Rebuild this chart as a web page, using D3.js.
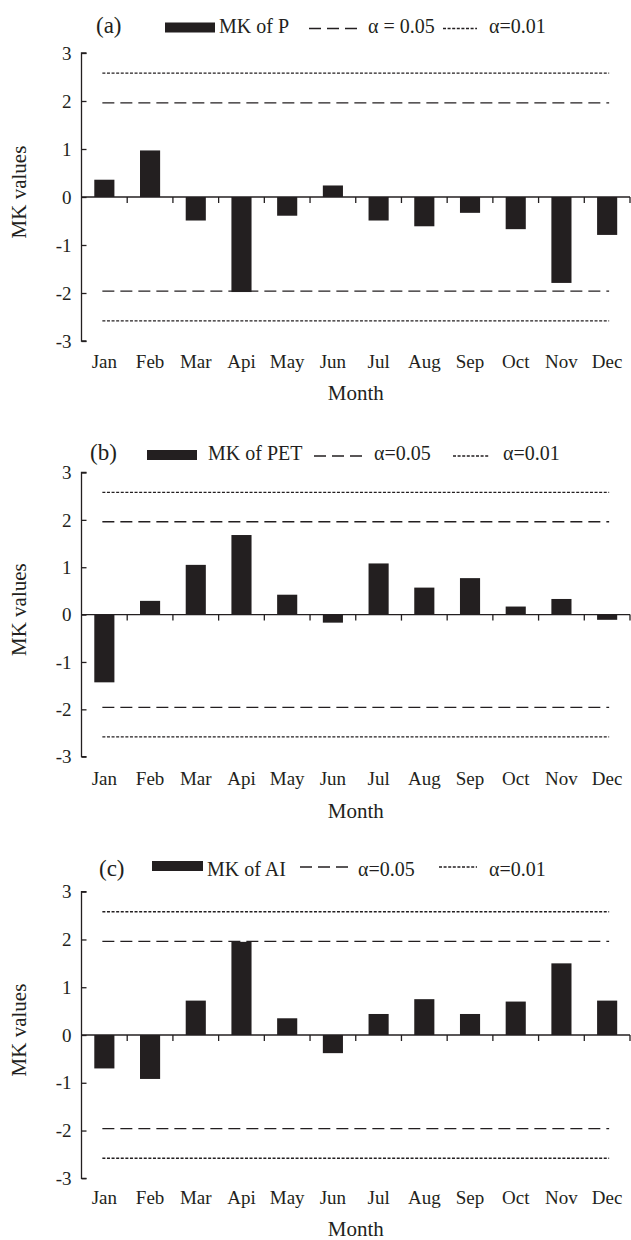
<!DOCTYPE html>
<html><head><meta charset="utf-8">
<script src="https://cdn.jsdelivr.net/npm/d3@7"></script>
<style>
html,body{margin:0;padding:0;background:#fff;}
svg{display:block;font-family:"Liberation Serif","Times New Roman",serif;}
</style></head>
<body>
<svg id="chart" width="631" height="1240"></svg>
<script>
// ---- data ----
const months = ["Jan","Feb","Mar","Api","May","Jun","Jul","Aug","Sep","Oct","Nov","Dec"];
const mkP   = [0.36, 0.97, -0.49, -1.98, -0.39, 0.24, -0.49, -0.61, -0.33, -0.67, -1.79, -0.79];
const mkPET = [-1.43, 0.29, 1.05, 1.68, 0.42, -0.17, 1.08, 0.57, 0.77, 0.17, 0.33, -0.11];
const mkAI  = [-0.70, -0.92, 0.72, 1.95, 0.35, -0.38, 0.44, 0.75, 0.44, 0.70, 1.50, 0.72];
const yTickValues = [-3, -2, -1, 0, 1, 2, 3];
const alpha05 = 1.96;
const alpha01 = 2.58;
const panelTags = ["(a)", "(b)", "(c)"];
const seriesNames = ["MK of P", "MK of PET", "MK of AI"];
const alpha05Labels = ["\u03b1 = 0.05", "\u03b1=0.05", "\u03b1=0.05"];
const alpha01Labels = ["\u03b1=0.01", "\u03b1=0.01", "\u03b1=0.01"];
const xTitle = "Month";
const yTitle = "MK values";

// ---- layout (positions only) ----
const layout = [
  {top:53, bottom:341, tickBase:368, titleBase:400, legBase:33, rectY:22.5, rectH:10,
   tag:96, rect:[165,215], name:219, dash:[309,362], a05:368, dot:[443,477], a01:489},
  {top:472.5, bottom:756.7, tickBase:785, titleBase:818, legBase:460, rectY:450, rectH:10,
   tag:90, rect:[147,197], name:208, dash:[314,364], a05:374, dot:[453,489], a01:503},
  {top:891.7, bottom:1178.3, tickBase:1204, titleBase:1236, legBase:876, rectY:861, rectH:10,
   tag:99, rect:[152,203], name:207, dash:[300,350], a05:358, dot:[439,477], a01:489}
];
const axisX = 81.5, axisEnd = 630;
const ink = "#231f20";

const svg = d3.select("#chart");
const x = d3.scaleBand().domain(months).range([axisX, axisEnd]).paddingInner(0.56).paddingOuter(0.28);
const band = d3.scaleBand().domain(months).range([axisX, axisEnd]).padding(0);
const allSeries = [mkP, mkPET, mkAI];

allSeries.forEach((vals, i) => {
  const L = layout[i];
  const y = d3.scaleLinear().domain([-3, 3]).range([L.bottom, L.top]);
  const g = svg.append("g");

  // reference lines
  const lx1 = band(months[0]) + band.bandwidth()/2 - 2;
  const lx2 = band(months[11]) + band.bandwidth()/2 + 2;
  [[alpha05, "12,6"], [-alpha05, "12,6"], [alpha01, "3,1.6"], [-alpha01, "3,1.6"]].forEach(([v, da]) => {
    g.append("line").attr("x1", lx1).attr("x2", lx2).attr("y1", y(v)).attr("y2", y(v))
      .attr("stroke", ink).attr("stroke-width", 1.3).attr("stroke-dasharray", da);
  });

  // bars
  g.selectAll("rect.bar").data(vals).join("rect").attr("class","bar")
    .attr("x", (d, j) => x(months[j]))
    .attr("width", x.bandwidth())
    .attr("y", d => y(Math.max(0, d)))
    .attr("height", d => Math.abs(y(d) - y(0)))
    .attr("fill", ink);

  // y axis
  const yAxis = d3.axisRight(y).tickValues(yTickValues).tickSize(5).tickFormat("");
  const ya = g.append("g").attr("transform", `translate(${axisX},0)`).call(yAxis);
  ya.select(".domain").attr("d", `M5,${L.top}H0V${L.bottom}H5`).attr("stroke", ink).attr("stroke-width", 1.3);
  ya.selectAll(".tick line").attr("stroke", ink).attr("stroke-width", 1.3);
  g.selectAll("text.ylab").data(yTickValues).join("text").attr("class","ylab")
    .attr("x", axisX - 10).attr("y", d => y(d)).attr("dy", "0.35em")
    .attr("text-anchor", "end").attr("font-size", 19).attr("fill", ink)
    .text(d => d);

  // x axis at zero with ticks at band boundaries
  g.append("line").attr("x1", axisX).attr("x2", axisEnd).attr("y1", y(0)).attr("y2", y(0))
    .attr("stroke", ink).attr("stroke-width", 1.3);
  g.selectAll("line.xt").data(months).join("line").attr("class","xt")
    .attr("x1", d => band(d) + band.bandwidth()).attr("x2", d => band(d) + band.bandwidth())
    .attr("y1", y(0)).attr("y2", y(0) + 6).attr("stroke", ink).attr("stroke-width", 1.3);

  // x tick labels at bottom
  g.selectAll("text.xlab").data(months).join("text").attr("class","xlab")
    .attr("x", d => band(d) + band.bandwidth()/2).attr("y", L.tickBase)
    .attr("text-anchor", "middle").attr("font-size", 19).attr("fill", ink).text(d => d);

  // titles
  g.append("text").attr("x", (axisX + axisEnd)/2).attr("y", L.titleBase)
    .attr("text-anchor", "middle").attr("font-size", 21).attr("fill", ink).text(xTitle);
  g.append("text").attr("transform", `translate(26,${y(0) - 5}) rotate(-90)`)
    .attr("text-anchor", "middle").attr("font-size", 21).attr("fill", ink).text(yTitle);

  // legend
  g.append("text").attr("x", L.tag).attr("y", L.legBase).attr("font-size", 23).attr("fill", ink).text(panelTags[i]);
  g.append("rect").attr("x", L.rect[0]).attr("y", L.rectY).attr("width", L.rect[1]-L.rect[0]).attr("height", L.rectH).attr("fill", ink);
  g.append("text").attr("x", L.name).attr("y", L.legBase).attr("font-size", 20).attr("fill", ink).text(seriesNames[i]);
  const ly = L.rectY + L.rectH/2 + 1;
  g.append("line").attr("x1", L.dash[0]).attr("x2", L.dash[1]).attr("y1", ly).attr("y2", ly)
    .attr("stroke", ink).attr("stroke-width", 1.3).attr("stroke-dasharray", "12,6");
  g.append("text").attr("x", L.a05).attr("y", L.legBase).attr("font-size", 20).attr("fill", ink).text(alpha05Labels[i]);
  g.append("line").attr("x1", L.dot[0]).attr("x2", L.dot[1]).attr("y1", ly).attr("y2", ly)
    .attr("stroke", ink).attr("stroke-width", 1.3).attr("stroke-dasharray", "3,1.6");
  g.append("text").attr("x", L.a01).attr("y", L.legBase).attr("font-size", 20).attr("fill", ink).text(alpha01Labels[i]);
});
</script>
</body></html>
